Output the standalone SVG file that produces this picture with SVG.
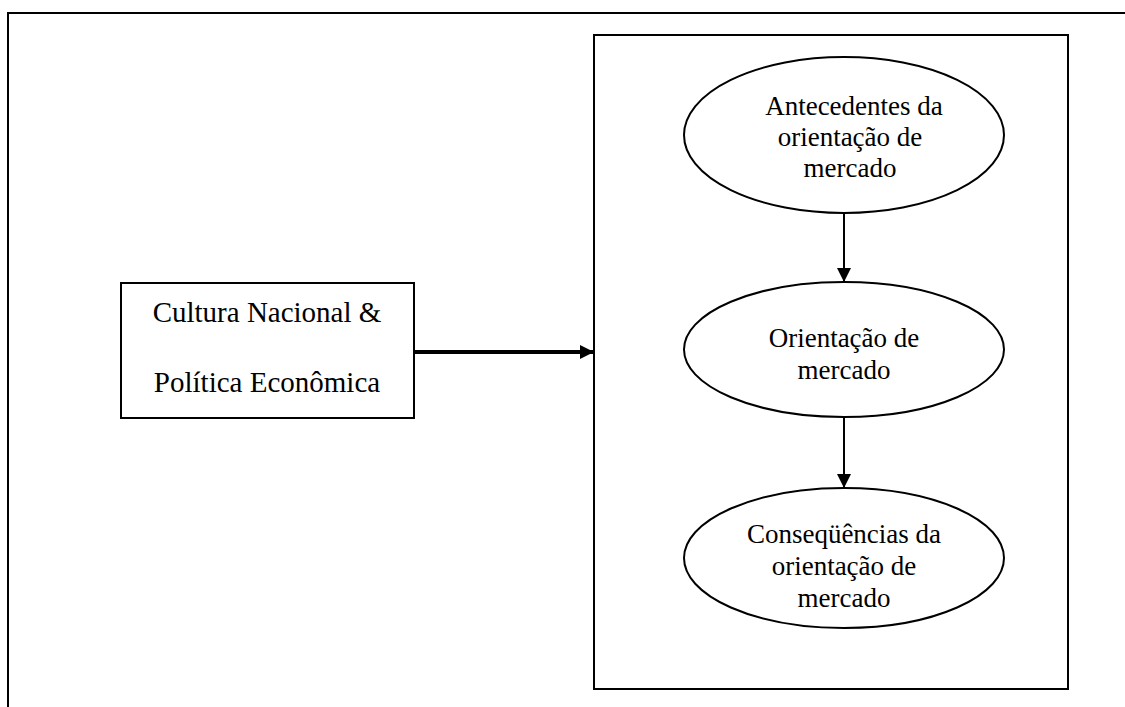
<svg xmlns="http://www.w3.org/2000/svg" width="1125" height="707" viewBox="0 0 1125 707">
<defs>
<style>
.ln{fill:none;stroke:#000;stroke-width:2}
.nd{fill:#fff;stroke:#000;stroke-width:2}
.t{font-family:"Liberation Serif","Times New Roman",serif;font-size:27px;fill:#000;text-anchor:middle}
.tb{font-size:29px}
</style>
<marker id="ah2" viewBox="0 0 10 10" refX="10" refY="5" markerWidth="14" markerHeight="14" markerUnits="userSpaceOnUse" orient="auto" preserveAspectRatio="none"><path d="M0,0 L10,5 L0,10 z" fill="#000"/></marker>
</defs>
<rect width="1125" height="707" fill="#fff"/>
<g id="frame"><path class="ln" d="M8,707 V13 H1125"/></g>
<g id="container"><rect class="nd" x="594" y="35" width="474" height="654"/></g>
<g id="cultura"><rect class="nd" x="121" y="283" width="293" height="135"/>
<text class="t tb" x="267" y="322">Cultura Nacional &amp;</text>
<text class="t tb" x="267" y="392">Política Econômica</text></g>
<g id="antecedentes"><ellipse class="nd" cx="844" cy="135" rx="160" ry="78"/>
<text class="t" x="854" y="115">Antecedentes da</text>
<text class="t" x="850" y="146">orientação de</text>
<text class="t" x="850" y="177">mercado</text></g>
<g id="orientacao"><ellipse class="nd" cx="844" cy="349.5" rx="160" ry="67.5"/>
<text class="t" x="844" y="347">Orientação de</text>
<text class="t" x="844" y="379">mercado</text></g>
<g id="consequencias"><ellipse class="nd" cx="844" cy="558" rx="160" ry="70"/>
<text class="t" x="844" y="543">Conseqüências da</text>
<text class="t" x="844" y="575">orientação de</text>
<text class="t" x="844" y="607">mercado</text></g>
<g id="connectors">
<line x1="414" y1="352" x2="594" y2="352" stroke="#000" stroke-width="4" marker-end="url(#ah2)"/>
<line x1="844" y1="213" x2="844" y2="282" stroke="#000" stroke-width="2" marker-end="url(#ah2)"/>
<line x1="844" y1="417" x2="844" y2="488" stroke="#000" stroke-width="2" marker-end="url(#ah2)"/>
</g>
</svg>
